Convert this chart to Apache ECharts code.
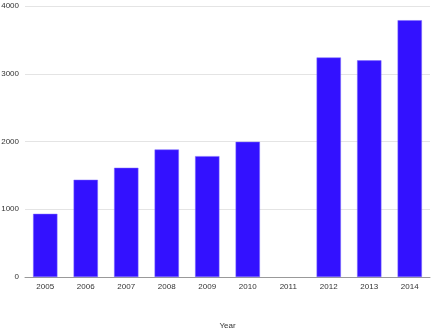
<!DOCTYPE html>
<html><head><meta charset="utf-8">
<script src="https://cdn.jsdelivr.net/npm/echarts@6/dist/echarts.min.js"></script>
<style>html,body{margin:0;padding:0;background:#fff}#c{width:437px;height:336px}</style>
</head><body><div id="c"></div>
<script>
var categories = ['2005','2006','2007','2008','2009','2010','2011','2012','2013','2014'];
var values = [932, 1435, 1612, 1882, 1784, 1995, null, 3240, 3198, 3790];
var yTicks = [0, 1000, 2000, 3000, 4000];

var chart = echarts.init(document.getElementById('c'), null, {renderer:'canvas'});
chart.setOption({
  animation: false,
  grid: {left: 25, right: 7, top: 6, bottom: 59, containLabel: false, outerBoundsMode: 'none'},
  xAxis: {
    type: 'category', data: categories,
    name: 'Year', nameLocation: 'middle', nameGap: 45,
    nameTextStyle: {fontFamily: 'Liberation Sans', fontSize: 8, color: '#333'},
    axisLine: {lineStyle: {color: '#999'}},
    axisTick: {show: false},
    axisLabel: {fontFamily: 'Liberation Sans', fontSize: 8, color: '#333', margin: 6}
  },
  yAxis: {
    type: 'value', min: yTicks[0], max: yTicks[yTicks.length-1], interval: 1000,
    axisLine: {show: false}, axisTick: {show: false},
    splitLine: {lineStyle: {color: '#e4e4e4'}},
    axisLabel: {fontFamily: 'Liberation Sans', fontSize: 8, color: '#333', margin: 6,
      formatter: function (v) { return String(v); }}
  },
  series: [{
    type: 'bar', data: values, barWidth: '60%',
    itemStyle: {color: '#3311ff', borderColor: '#7a66ff', borderWidth: 0.5}
  }]
});
</script></body></html>
